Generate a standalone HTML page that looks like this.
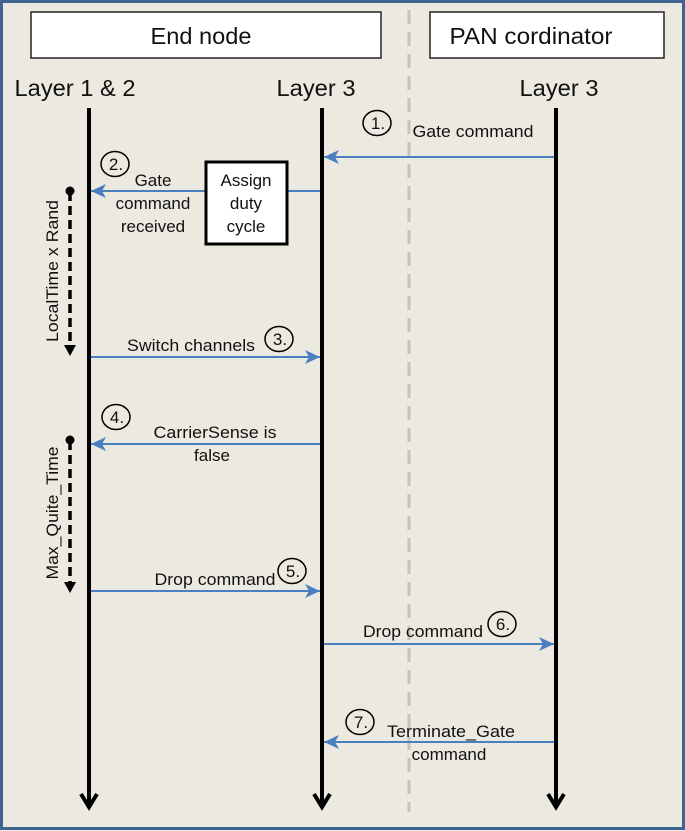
<!DOCTYPE html>
<html><head><meta charset="utf-8"><style>
html,body{margin:0;padding:0;background:#ece9e0}
svg{display:block}
text{font-family:"Liberation Sans",Arial,sans-serif;fill:#111}
</style></head><body>
<svg width="685" height="831" viewBox="0 0 685 831" xmlns="http://www.w3.org/2000/svg">
<defs>
<marker id="ba" markerWidth="16" markerHeight="14" refX="15" refY="7" orient="auto" markerUnits="userSpaceOnUse">
<path d="M0,0 L15,7 L0,14 L4,7 Z" fill="#4a7fc0"/>
</marker>
</defs>
<rect x="1.5" y="1.5" width="682" height="827" fill="#ece9e0" stroke="#3d6590" stroke-width="3"/>
<line x1="409" y1="10" x2="409" y2="812" stroke="#c3c3c0" stroke-width="3" stroke-dasharray="14,8"/>
<rect x="31" y="12" width="350" height="46" fill="#fff" stroke="#222" stroke-width="1.5"/>
<text x="201" y="44" font-size="23" text-anchor="middle" textLength="101" lengthAdjust="spacingAndGlyphs">End node</text>
<rect x="430" y="12" width="234" height="46" fill="#fff" stroke="#222" stroke-width="1.5"/>
<text x="531" y="44" font-size="23" text-anchor="middle" textLength="163" lengthAdjust="spacingAndGlyphs">PAN cordinator</text>
<text x="75" y="96" font-size="23" text-anchor="middle" textLength="121" lengthAdjust="spacingAndGlyphs">Layer 1 &amp; 2</text>
<text x="316" y="96" font-size="23" text-anchor="middle" textLength="79" lengthAdjust="spacingAndGlyphs">Layer 3</text>
<text x="559" y="96" font-size="23" text-anchor="middle" textLength="79" lengthAdjust="spacingAndGlyphs">Layer 3</text>
<g stroke="#000" stroke-width="4" fill="none">
<line x1="89" y1="108" x2="89" y2="806"/>
<line x1="322" y1="108" x2="322" y2="806"/>
<line x1="556" y1="108" x2="556" y2="806"/>
<polyline points="81,794 89,807 97,794" stroke-width="4"/>
<polyline points="314,794 322,807 330,794" stroke-width="4"/>
<polyline points="548,794 556,807 564,794" stroke-width="4"/>
</g>
<g stroke="#4a7fc0" stroke-width="2" fill="none">
<line x1="554" y1="157" x2="324" y2="157" marker-end="url(#ba)"/>
<line x1="320" y1="191" x2="91" y2="191" marker-end="url(#ba)"/>
<line x1="91" y1="357" x2="320" y2="357" marker-end="url(#ba)"/>
<line x1="320" y1="444" x2="91" y2="444" marker-end="url(#ba)"/>
<line x1="91" y1="591" x2="320" y2="591" marker-end="url(#ba)"/>
<line x1="324" y1="644" x2="554" y2="644" marker-end="url(#ba)"/>
<line x1="554" y1="742" x2="324" y2="742" marker-end="url(#ba)"/>
</g>
<rect x="206" y="162" width="81" height="82" fill="#fff" stroke="#000" stroke-width="3"/>
<text x="246" y="186" font-size="17" text-anchor="middle">Assign</text>
<text x="246" y="209" font-size="17" text-anchor="middle">duty</text>
<text x="246" y="232" font-size="17" text-anchor="middle">cycle</text>
<g stroke="#000" stroke-width="1.5" fill="none">
<ellipse cx="377" cy="123" rx="14" ry="12.5"/>
<ellipse cx="115" cy="164" rx="14" ry="12.5"/>
<ellipse cx="279" cy="339" rx="14" ry="12.5"/>
<ellipse cx="116" cy="417" rx="14" ry="12.5"/>
<ellipse cx="292" cy="571" rx="14" ry="12.5"/>
<ellipse cx="502" cy="624" rx="14" ry="12.5"/>
<ellipse cx="360" cy="722" rx="14" ry="12.5"/>
</g>
<g font-size="17" text-anchor="middle">
<text x="378" y="129">1.</text>
<text x="116" y="170">2.</text>
<text x="280" y="345">3.</text>
<text x="117" y="423">4.</text>
<text x="293" y="577">5.</text>
<text x="503" y="630">6.</text>
<text x="361" y="728">7.</text>
</g>
<g font-size="17" text-anchor="middle">
<text x="473" y="137" textLength="121" lengthAdjust="spacingAndGlyphs">Gate command</text>
<text x="153" y="186">Gate</text>
<text x="153" y="209">command</text>
<text x="153" y="232">received</text>
<text x="191" y="351" textLength="128" lengthAdjust="spacingAndGlyphs">Switch channels</text>
<text x="215" y="438" textLength="123" lengthAdjust="spacingAndGlyphs">CarrierSense is</text>
<text x="212" y="461">false</text>
<text x="215" y="585" textLength="121" lengthAdjust="spacingAndGlyphs">Drop command</text>
<text x="423" y="637" textLength="120" lengthAdjust="spacingAndGlyphs">Drop command</text>
<text x="451" y="737" textLength="128" lengthAdjust="spacingAndGlyphs">Terminate_Gate</text>
<text x="449" y="760">command</text>
</g>
<g stroke="#000" stroke-width="3.5">
<line x1="70" y1="192" x2="70" y2="346" stroke-dasharray="9,5"/>
<line x1="70" y1="441" x2="70" y2="582" stroke-dasharray="9,5"/>
</g>
<circle cx="70" cy="191" r="4.5" fill="#000"/>
<circle cx="70" cy="440" r="4.5" fill="#000"/>
<path d="M64,345 L76,345 L70,356 Z" fill="#000"/>
<path d="M64,582 L76,582 L70,593 Z" fill="#000"/>
<text transform="translate(58,271) rotate(-90)" font-size="17" text-anchor="middle" textLength="142" lengthAdjust="spacingAndGlyphs">LocalTime x Rand</text>
<text transform="translate(58,513) rotate(-90)" font-size="17" text-anchor="middle" textLength="133" lengthAdjust="spacingAndGlyphs">Max_Quite_Time</text>
</svg>
</body></html>
